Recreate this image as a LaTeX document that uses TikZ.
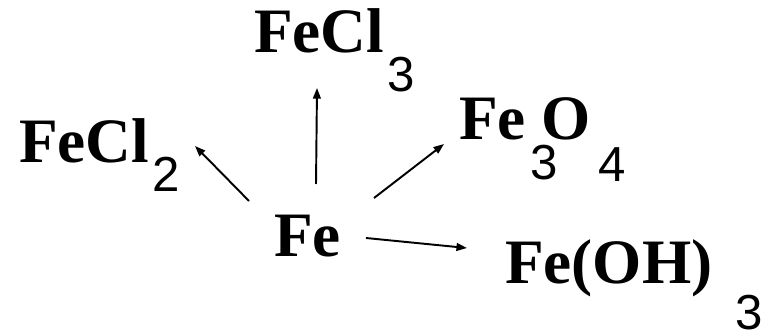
\documentclass[tikz,border=0pt]{standalone}
\usepackage{fontspec}
\setmainfont{Liberation Serif}
\setsansfont{Liberation Sans}
\usepackage{tikz}
\usetikzlibrary{arrows.meta}
\newcommand{\lowsub}[2]{\raisebox{-#1}{\sffamily\mdseries\fontsize{14}{14}\selectfont #2}}
\tikzset{
  chem/.style = {font=\fontsize{18}{18}\selectfont\bfseries, inner sep=0pt, outer sep=0pt, anchor=base west},
  arr/.style  = {-{Triangle[length=3pt,width=2.2pt]}, line width=0.55pt},
}

\begin{document}
\begin{tikzpicture}
  \useasboundingbox (0,0) rectangle (7.63,3.35);
  \node[chem] (fe)    at (2.74,0.79) {Fe};
  \node[chem] (fecl2) at (0.19,1.72) {FeCl\hspace{1pt}\lowsub{8pt}{2}};
  \node[chem] (fecl3) at (2.54,2.82) {FeCl\hspace{1pt}\lowsub{11pt}{3}};
  \node[chem] (feo)   at (4.59,1.95) {Fe\hspace{1.4pt}\lowsub{11.3pt}{3}\hspace{-4.8pt}O\hspace{2.4pt}\lowsub{11.9pt}{4}};
  \node[chem] (feoh)  at (5.05,0.52) {Fe(OH)\hspace{6.6pt}\lowsub{13.2pt}{3}};
  \draw[arr] ([shift={(-0.25,0.55)}]fe.base west) -- ([shift={(1.76,0.17)}]fecl2.base west);
  \draw[arr] ([shift={(0.42,0.72)}]fe.base west) -- ([shift={(0.63,-0.35)}]fecl3.base west);
  \draw[arr] ([shift={(1.00,0.58)}]fe.base west) -- ([shift={(-0.15,-0.04)}]feo.base west);
  \draw[arr] ([shift={(0.92,0.18)}]fe.base west) -- ([shift={(-0.38,0.35)}]feoh.base west);
\end{tikzpicture}
\end{document}
